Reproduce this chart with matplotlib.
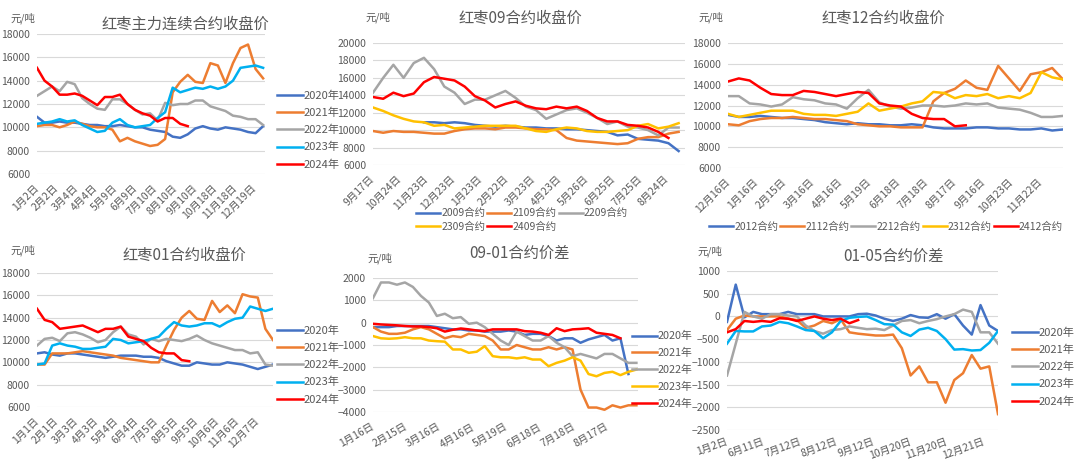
import numpy as np
import matplotlib.pyplot as plt

plt.rcParams['font.family'] = ['Noto Sans CJK SC', 'DejaVu Sans']

BLUE, ORANGE, GRAY, CYAN, RED, YELLOW = '#4472C4', '#ED7D31', '#A5A5A5', '#00B0F0', '#FF0000', '#FFC000'
TXT = '#595959'
NA = np.nan

# 红枣主力连续合约收盘价 (每8个交易日取一个点)
p1_labels = ['1月2日', '2月2日', '3月4日', '4月4日', '5月9日', '6月9日', '7月10日',
             '8月10日', '9月10日', '10月18日', '11月18日', '12月19日']
p1_2020 = [10900, 10400, 10400, 10500, 10400, 10400, 10300, 10200, 10200, 10100, 10100, 10200, 10100, 10000, 10000,
           9800, 9700, 9600, 9200, 9100, 9400, 9900, 10100, 9900, 9800, 10000, 9900, 9800, 9600, 9500, 10100]
p1_2021 = [10100, 10200, 10200, 10000, 10200, 10500, 10300, 10100, 10000, 10000, 9800, 8800, 9100, 8800, 8600,
           8400, 8500, 9000, 13000, 13900, 14500, 13900, 13800, 15500, 15300, 13800, 15500, 16800, 17100, 15000, 14200]
p1_2022 = [12700, 13100, 13500, 13100, 13900, 13700, 12500, 12000, 11600, 11500, 12400, 12400, 12000, 11500, 11100,
           11200, 10600, 12100, 11900, 12000, 12000, 12300, 12300, 11800, 11600, 11400, 11000, 10900, 10700, 10700, 10200]
p1_2023 = [10300, 10400, 10500, 10700, 10500, 10600, 10200, 9900, 9600, 9700, 10400, 10700, 10200, 10000, 10100,
           10200, 10800, 11300, 13400, 13000, 13200, 13400, 13300, 13500, 13300, 13500, 14000, 15100, 15200, 15300, 15100]
p1_2024 = [15100, 14000, 13500, 12800, 12800, 12900, 12700, 12300, 11900, 12600, 12600, 12800, 12000, 11500, 11200,
           11000, 10500, 10800, 10800, 10300, 10100]

# 红枣09合约收盘价
p2_labels = ['9月17日', '10月24日', '11月23日', '12月23日', '1月23日', '2月22日', '3月23日',
             '4月23日', '5月26日', '6月25日', '7月25日', '8月24日']
p2_2009 = [NA, NA, NA, NA, NA, 10900, 10900, 10800, 10900, 10800, 10600, 10500, 10400, 10500, 10400, 10300,
           10300, 10200, 10200, 10100, 10100, 10000, 9900, 9800, 9400, 9500, 9000, 8900, 8800, 8500, 7600]
p2_2109 = [9900, 9700, 9900, 9800, 9800, 9700, 9600, 9600, 9900, 10100, 10200, 10200, 10100, 10300, 10300, 10200,
           10100, 10100, 10000, 9100, 8800, 8700, 8600, 8500, 8400, 8500, 9000, 9200, 9200, 9600, 9800]
p2_2209 = [14300, 16000, 17500, 16000, 17700, 18300, 17000, 15000, 14300, 13000, 13500, 13500, 14000, 14500, 13700,
           12700, 12300, 11300, 11800, 12300, 12500, 12000, 11400, 10700, 11000, 10400, 10300, 10000, 9400, 10300, 10300]
p2_2309 = [12600, 12200, 11700, 11300, 11000, 10900, 10500, 10600, 10200, 10300, 10400, 10500, 10500, 10500, 10500,
           10200, 9900, 9800, 10100, 10300, 10200, 9900, 9800, 9800, 9900, 10000, 10500, 10700, 10200, 10400, 10800]
p2_2409 = [13800, 13600, 14300, 13900, 14200, 15500, 16100, 15900, 15700, 15000, 13900, 13400, 12600, 13000, 13300,
           12800, 12500, 12400, 12700, 12500, 12700, 12200, 11400, 11000, 11000, 10600, 10500, 10300, 9800, 9100]

# 红枣12合约收盘价
p3_labels = ['12月16日', '1月16日', '2月15日', '3月16日', '4月16日', '5月19日', '6月18日',
             '7月18日', '8月17日', '9月16日', '10月23日', '11月22日']
p3_2012 = [11100, 10900, 10900, 11000, 10900, 10800, 10800, 10700, 10600, 10400, 10300, 10200, 10300, 10200, 10200,
           10100, 10100, 10200, 10100, 9900, 9800, 9800, 9800, 9900, 9900, 9800, 9800, 9700, 9700, 9800, 9600, 9700]
p3_2112 = [10200, 10100, 10500, 10700, 10800, 10800, 10900, 10800, 10700, 10700, 10600, 10500, 10200, 10100, 10000,
           10000, 9900, 9900, 9900, 12400, 13200, 13600, 14400, 13700, 13500, 15800, 14600, 13400, 15000, 15200, 15600, 14500]
p3_2212 = [12900, 12900, 12200, 12100, 11900, 12100, 12800, 12600, 12500, 12200, 12100, 11700, 12700, 13500, 12300,
           11900, 11700, 11800, 12000, 12000, 11900, 12000, 12200, 12100, 12200, 11800, 11700, 11600, 11300, 10900, 10900, 11000]
p3_2312 = [11200, 10900, 11100, 11300, 11500, 11500, 11500, 11200, 11100, 11100, 11000, 11200, 11400, 12200, 11500,
           11700, 11900, 12200, 12400, 13300, 13200, 12700, 13000, 12900, 13100, 12700, 12900, 12700, 13200, 15200, 14700, 14500]
p3_2412 = [14300, 14600, 14400, 13700, 13100, 13000, 13000, 13400, 13300, 13100, 12900, 13100, 13300, 13200, 12200,
           12000, 11900, 11200, 10800, 10700, 10700, 10000, 10100]

# 红枣01合约收盘价
p4_labels = ['1月1日', '2月1日', '3月3日', '4月3日', '5月4日', '6月4日', '7月5日',
             '8月5日', '9月5日', '10月6日', '11月6日', '12月7日']
p4_2020 = [10800, 10900, 10700, 10600, 10800, 10800, 10700, 10600, 10500, 10400, 10500, 10600, 10600, 10600, 10500,
           10500, 10400, 10100, 9900, 9700, 9700, 10000, 9900, 9800, 9800, 10000, 9900, 9800, 9600, 9400, 9600, 9800]
p4_2021 = [9800, 9800, 10800, 10800, 10800, 10900, 11000, 10900, 10800, 10700, 10600, 10400, 10300, 10200, 10100,
           10000, 10000, 11500, 12900, 14000, 14600, 13900, 13800, 15500, 14500, 15100, 14400, 16100, 15900, 15800, 13000, 12000]
p4_2022 = [11500, 12100, 12200, 11900, 12600, 12700, 12500, 12200, 11800, 12000, 12700, 13200, 12500, 12300, 11600,
           12100, 11900, 12100, 12000, 11900, 12100, 12400, 12000, 11700, 11500, 11300, 11100, 11100, 10800, 10900, 9800, 9700]
p4_2023 = [9800, 9900, 11500, 11700, 11500, 11400, 11200, 11200, 11300, 11400, 12100, 12000, 11700, 11800, 11900,
           12100, 12300, 13000, 13600, 13300, 13200, 13300, 13500, 13500, 13200, 13600, 13900, 14000, 15000, 14800, 14600, 14800]
p4_2024 = [14800, 13800, 13600, 13000, 13100, 13200, 13300, 13000, 12700, 13000, 13000, 13200, 12300, 12100, 11900,
           11300, 10900, 10800, 10800, 10200, 10100]

# 09-01合约价差 (每5个交易日)
p5_labels = ['1月16日', '2月15日', '3月16日', '4月16日', '5月19日', '6月18日', '7月18日', '8月17日']
p5_2020 = [-200, -200, -200, -150, -150, -150, -150, -150, -200, -250, -300, -300, -350, -350, -400, -400, -400,
           -350, -400, -550, -500, -500, -600, -800, -700, -700, -900, -750, -650, -550, -800, -700, -2300]
p5_2021 = [-200, -400, -500, -500, -450, -300, -200, -300, -500, -700, -600, -650, -500, -550, -600, -800, -1200,
           -1200, -1000, -1100, -1200, -1200, -1100, -1200, -1100, -1200, -3000, -3800, -3800, -3900, -3700, -3800, -3700, -3700]
p5_2022 = [1100, 1800, 1800, 1700, 1800, 1600, 1200, 900, 300, 400, 200, 250, -50, 0, -200, -500, -800,
           -1000, -400, -600, -800, -800, -600, -900, -1100, -1500, -1400, -1500, -1600, -1400, -1400, -1600, -1800, -1800]
p5_2023 = [-600, -700, -720, -700, -650, -700, -700, -800, -830, -850, -1200, -1200, -1350, -1300, -1050, -1500, -1550,
           -1550, -1600, -1550, -1650, -1650, -1950, -1800, -1700, -1550, -1700, -2300, -2400, -2250, -2200, -2350, -2200, -2100]
p5_2024 = [-50, -80, -100, -120, -150, -170, -170, -200, -250, -400, -320, -260, -300, -350, -380, -300, -300,
           -300, -300, -380, -400, -450, -550, -250, -380, -300, -280, -250, -450, -500, -550, -700]

# 01-05合约价差
p6_labels = ['1月2日', '6月11日', '7月12日', '8月12日', '9月12日', '10月20日', '11月20日', '12月21日']
p6_2020 = [-120, 700, -20, 100, 50, 50, 50, 100, 50, 50, 50, 0, 0, 0, 0, 50, 60, 20, -50, -100, -50, 30, -20, -30,
           50, -50, 50, -200, -400, 250, -200, -320]
p6_2021 = [-300, -50, 20, 0, 0, 0, 0, -50, -80, -250, -200, -100, -150, -60, -350, -380, -400, -420, -420, -400,
           -700, -1300, -1100, -1450, -1450, -1900, -1400, -1250, -850, -1150, -1100, -2150]
p6_2022 = [-1300, -600, 100, 0, -50, 50, 50, 20, 0, -200, -320, -380, -300, -280, -220, -250, -280, -270, -300, -200,
           -100, -80, -150, -100, -60, 0, 50, 150, 100, -350, -350, -600]
p6_2023 = [-600, -320, -330, -330, -220, -200, -120, -150, -220, -300, -320, -480, -350, -100, -30, -10, 0, -80, -170,
           -180, -350, -430, -290, -250, -320, -500, -730, -720, -750, -740, -580, -320]
p6_2024 = [-350, -280, -100, -120, -100, -120, -40, -50, -100, -50, 0, -50, -80, -50, -150, -80]

years = ['2020年', '2021年', '2022年', '2023年', '2024年']

fig = plt.figure(figsize=(10.8, 4.74), dpi=100)


def px(x, y):
    return x / 1080, 1 - y / 474


def panel(rect, title, tpos, upos, series, colors, names, step, xmax, labels, yticks, rot, xpad=9):
    ax = fig.add_axes([rect[0] / 1080, 1 - rect[3] / 474, (rect[2] - rect[0]) / 1080, (rect[3] - rect[1]) / 474])
    lines = []
    for vals, c, n in zip(series, colors, names):
        y = np.array(vals, dtype=float)
        ln, = ax.plot(np.arange(len(y)) * step, y, color=c, lw=1.8, label=n)
        lines.append(ln)
    ax.set_xlim(0, xmax)
    ax.set_ylim(yticks[0], yticks[-1])
    ax.set_yticks(yticks)
    ax.set_xticks(np.arange(len(labels)) * 21)
    ax.set_xticklabels(labels, rotation=rot, ha='right', va='center', rotation_mode='anchor')
    ax.tick_params(length=0, labelsize=7.5, colors=TXT)
    ax.tick_params(axis='x', pad=xpad)
    ax.tick_params(axis='y', pad=5)
    ax.grid(axis='y', color='#D9D9D9', lw=0.8)
    ax.set_axisbelow(True)
    for s in ax.spines.values():
        s.set_visible(False)
    fig.text(*px(*tpos), title, fontsize=11, color=TXT, ha='center', va='center')
    fig.text(*px(*upos), '元/吨', fontsize=7.5, color=TXT, ha='left', va='center')
    return lines


def side_legend(lines, x, y, size=8):
    fig.legend(handles=lines, loc='center left', bbox_to_anchor=px(x, y), frameon=False, fontsize=size,
               labelcolor=TXT, handlelength=2.3, handletextpad=0.1, labelspacing=0.62,
               borderpad=0, borderaxespad=0)


year_colors = [BLUE, ORANGE, GRAY, CYAN, RED]

l1 = panel((37, 34, 265, 174), '红枣主力连续合约收盘价', (185, 24), (10, 18),
           [p1_2020, p1_2021, p1_2022, p1_2023, p1_2024], year_colors, years,
           8, 242, p1_labels, np.arange(6000, 18001, 2000), 45)
side_legend(l1, 277, 130)

l2 = panel((373, 43, 685, 165), '红枣09合约收盘价', (520, 18), (365, 17),
           [p2_2009, p2_2109, p2_2209, p2_2309, p2_2409], [BLUE, ORANGE, GRAY, YELLOW, RED],
           ['2009合约', '2109合约', '2209合约', '2309合约', '2409合约'],
           8, 245, p2_labels, np.arange(6000, 20001, 2000), 45)
fig.legend(handles=[l2[0], l2[3], l2[1], l2[4], l2[2]], loc='center', bbox_to_anchor=px(522, 220), ncol=3,
           frameon=False, fontsize=7.5, labelcolor=TXT, handlelength=2.3, handletextpad=0.1,
           columnspacing=0.2, labelspacing=0.3, borderpad=0)

l3 = panel((728, 43, 1063, 168), '红枣12合约收盘价', (883, 18), (698, 17),
           [p3_2012, p3_2112, p3_2212, p3_2312, p3_2412], [BLUE, ORANGE, GRAY, YELLOW, RED],
           ['2012合约', '2112合约', '2212合约', '2312合约', '2412合约'],
           8, 248, p3_labels, np.arange(6000, 18001, 2000), 45)
fig.legend(handles=l3, loc='center', bbox_to_anchor=px(886, 227), ncol=5, frameon=False, fontsize=7.5,
           labelcolor=TXT, handlelength=2.3, handletextpad=0.1, columnspacing=0.2, borderpad=0)

l4 = panel((37, 273, 273, 407), '红枣01合约收盘价', (184, 255), (10, 250),
           [p4_2020, p4_2021, p4_2022, p4_2023, p4_2024], year_colors, years,
           8, 248, p4_labels, np.arange(6000, 18001, 2000), 45)
side_legend(l4, 277, 365)

l5 = panel((373, 278, 638, 412), '09-01合约价差', (519, 253), (367, 258),
           [p5_2020, p5_2021, p5_2022, p5_2023, p5_2024], [BLUE, ORANGE, GRAY, YELLOW, RED], years,
           5, 166, p5_labels, np.arange(-4000, 2001, 1000), 30, xpad=10)
side_legend(l5, 632, 370, size=7.8)

l6 = panel((727, 271, 998, 430), '01-05合约价差', (893, 256), (697, 251),
           [p6_2020, p6_2021, p6_2022, p6_2023, p6_2024], year_colors, years,
           5, 155, p6_labels, np.arange(-2500, 1001, 500), 20, xpad=8)
side_legend(l6, 1012, 367)

fig.savefig('out.png', dpi=100)
